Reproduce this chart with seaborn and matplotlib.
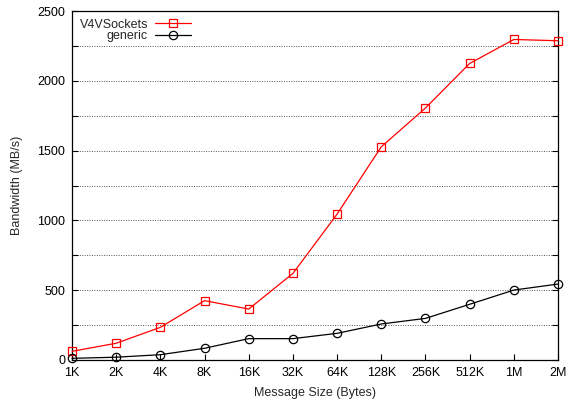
import matplotlib
matplotlib.use("Agg")
import matplotlib.pyplot as plt
import seaborn as sns
import numpy as np
import pandas as pd

sizes = ["1K", "2K", "4K", "8K", "16K", "32K", "64K", "128K", "256K", "512K", "1M", "2M"]
v4v_sockets = [62, 120, 234, 425, 365, 620, 1045, 1527, 1805, 2124, 2296, 2287]
generic = [12, 20, 38, 84, 153, 153, 191, 258, 298, 399, 501, 544]

sns.set_theme(style="ticks")
plt.rcParams["font.family"] = ["Liberation Sans", "DejaVu Sans"]
FS = 9
plt.rcParams["font.size"] = FS

pos = np.arange(len(sizes))
df = pd.DataFrame({
    "pos": np.concatenate([pos, pos]),
    "bw": v4v_sockets + generic,
    "series": ["V4VSockets"] * len(sizes) + ["generic"] * len(sizes),
})

fig = plt.figure(figsize=(5.66, 4.0), dpi=100)
ax = fig.add_axes([72 / 566, 40 / 400, (558 - 72) / 566, (360 - 11) / 400])

for name, color, mk in [("V4VSockets", "#ff0000", "s"), ("generic", "black", "o")]:
    sub = df[df["series"] == name]
    sns.lineplot(data=sub, x="pos", y="bw", ax=ax, color=color, marker=mk,
                 markersize=6, markerfacecolor="none", markeredgecolor=color,
                 markeredgewidth=0.9, linewidth=0.9, label=name, clip_on=False,
                 zorder=3)

ax.set_xlim(0, len(sizes) - 1)
ax.set_ylim(0, 2500)
ax.set_xticks(pos)
ax.set_xticklabels(sizes)
ax.set_yticks(np.arange(0, 2501, 500))
ax.set_yticks(np.arange(250, 2500, 500), minor=True)
ax.grid(axis="y", which="both", linestyle=(0, (1, 1.5)), linewidth=0.7, color="#555555")
ax.tick_params(axis="both", which="both", direction="in", labelsize=FS, colors="black",
               width=0.8, length=4, pad=5)
ax.tick_params(axis="y", which="both", right=True)
ax.tick_params(axis="x", top=False)
for s in ax.spines.values():
    s.set_visible(True)
    s.set_color("black")
    s.set_linewidth(0.9)

ax.set_xlabel("Message Size (Bytes)", fontsize=FS, labelpad=6)
ax.set_ylabel("Bandwidth (MB/s)", fontsize=FS, labelpad=10)

leg = ax.legend(loc="upper left", frameon=False, markerfirst=False, fontsize=FS,
                handlelength=2.9, handletextpad=0.55, labelspacing=-0.05,
                borderaxespad=0.2, bbox_to_anchor=(0.0, 1.0))

fig.savefig("out.png", dpi=100)
